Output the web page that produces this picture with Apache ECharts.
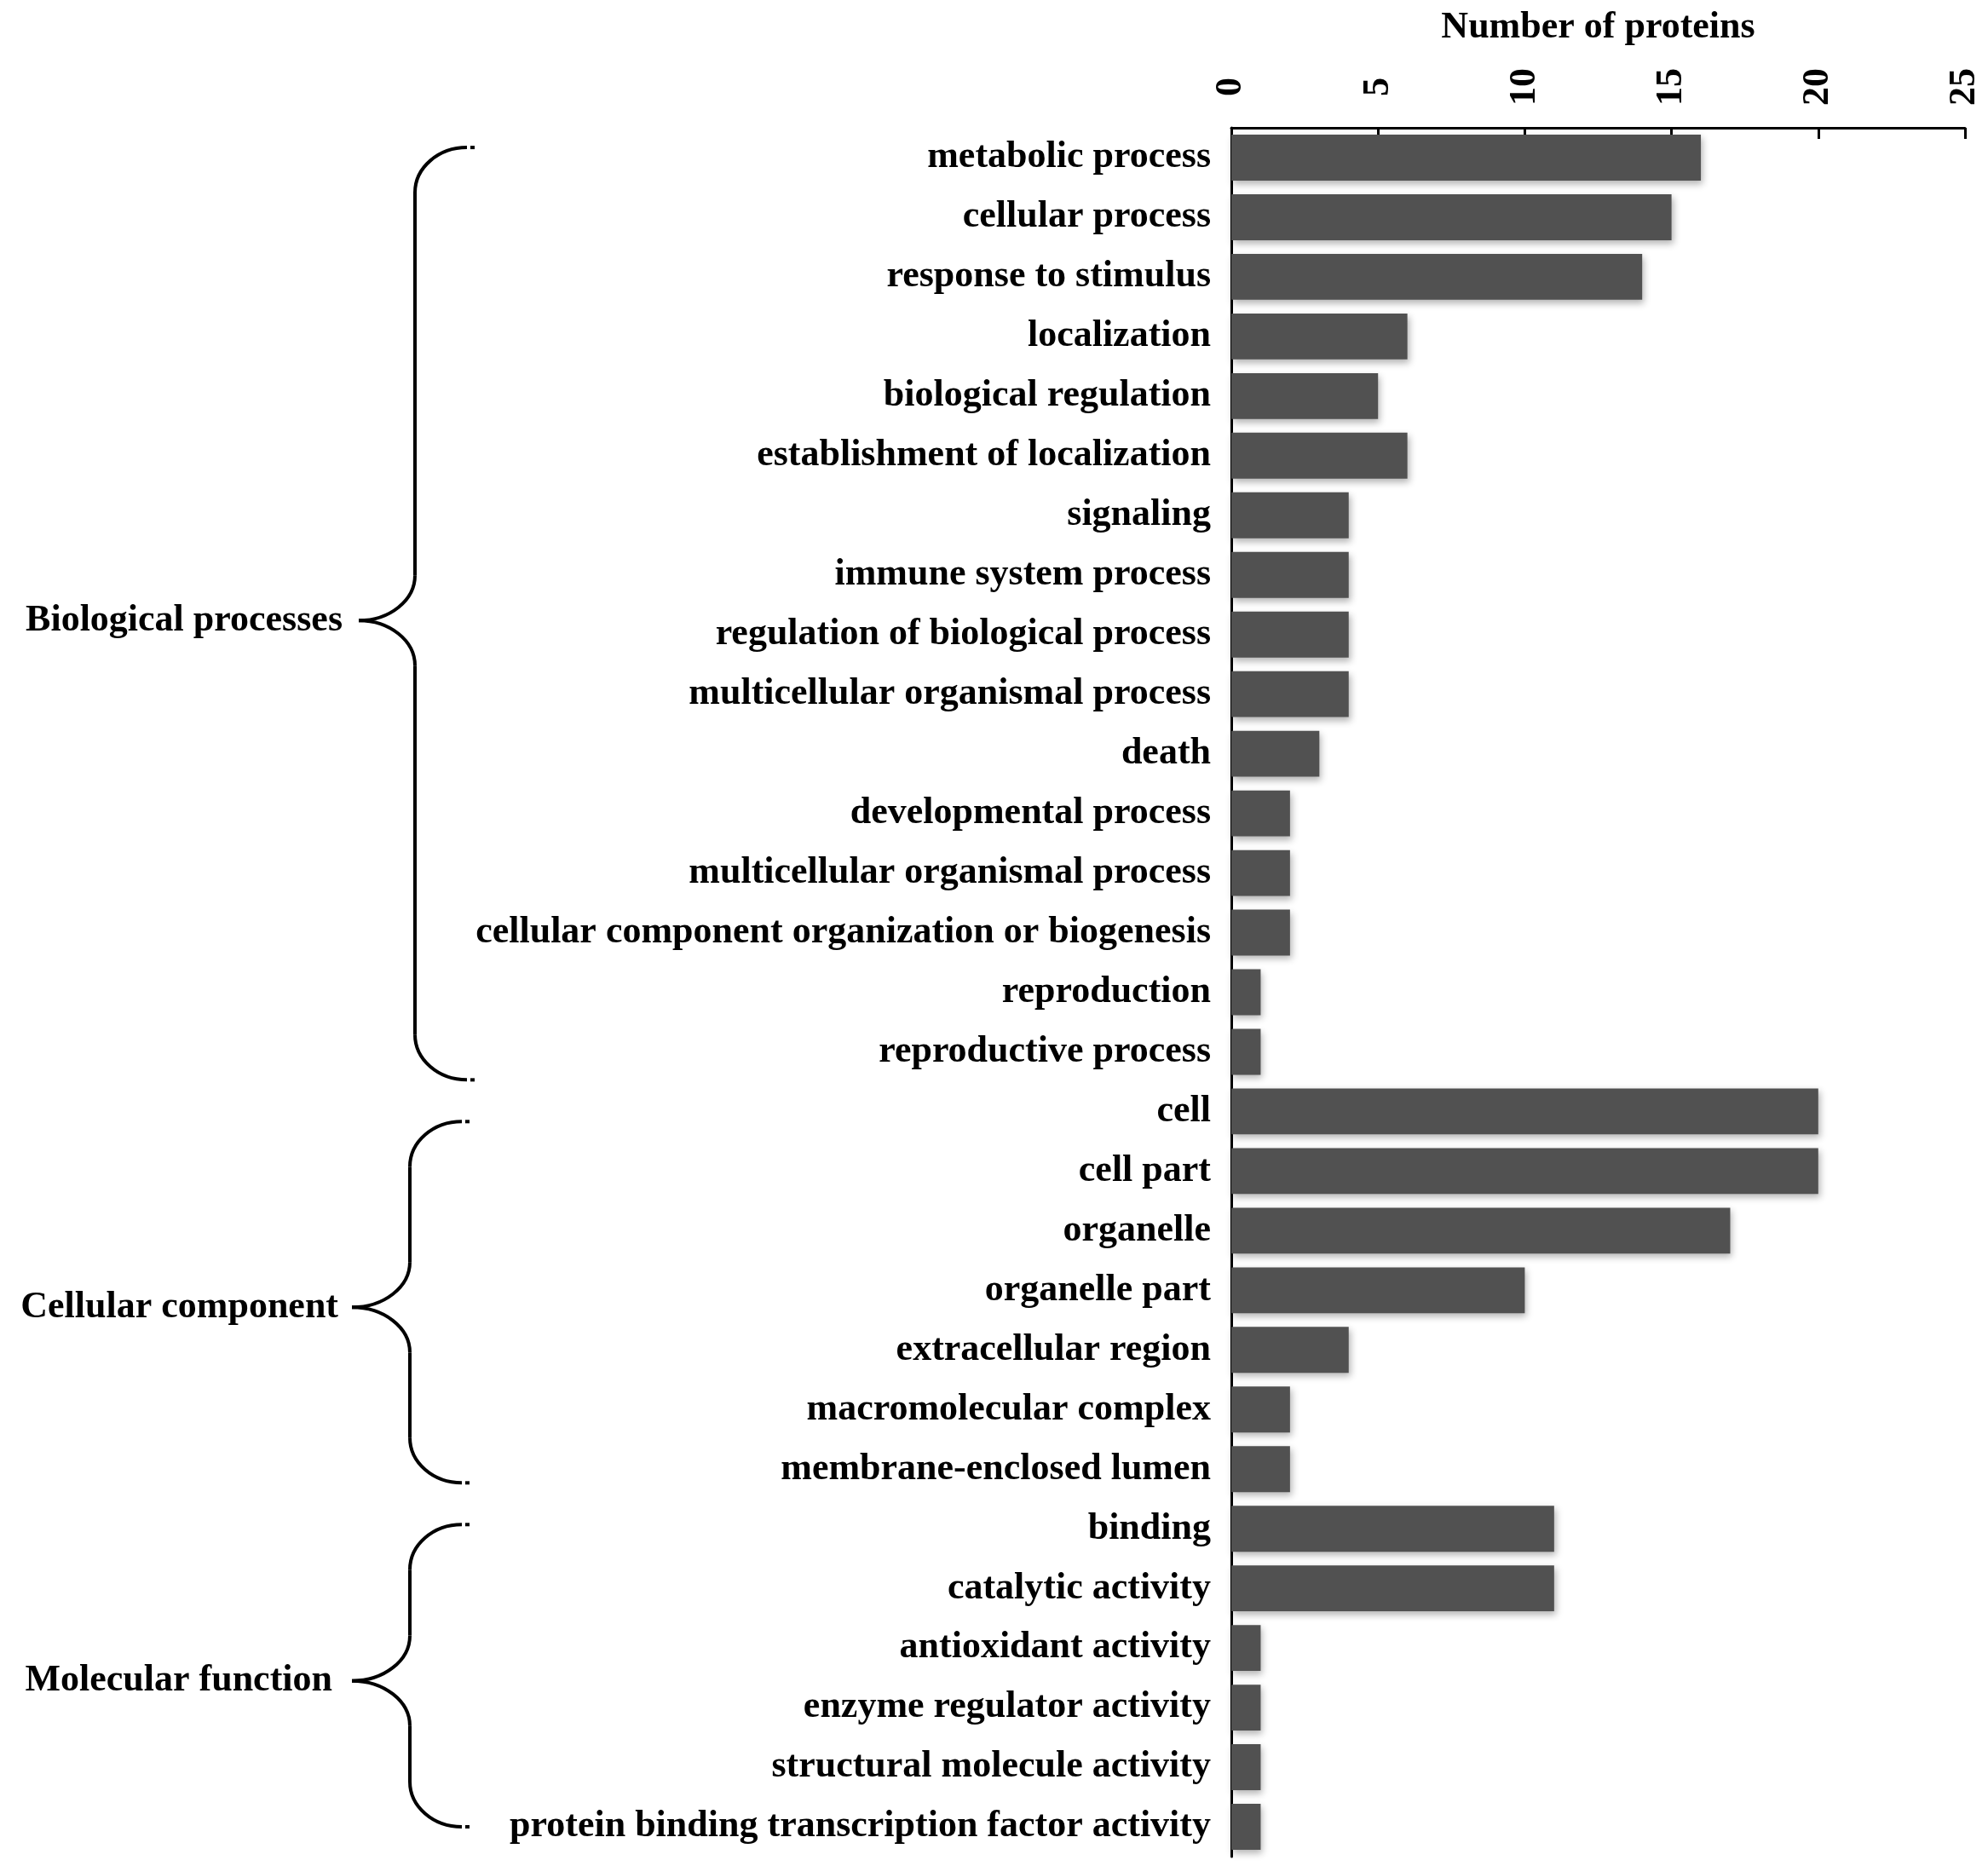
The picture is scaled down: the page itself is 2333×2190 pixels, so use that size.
<!DOCTYPE html>
<html><head><meta charset="utf-8">
<script src="https://cdn.jsdelivr.net/npm/echarts@6/dist/echarts.min.js"></script>
<style>html,body{margin:0;padding:0;background:#fff}#c{width:2333px;height:2190px}</style>
</head><body><div id="c"></div>
<script>
const categories = [
  'metabolic process','cellular process','response to stimulus','localization',
  'biological regulation','establishment of localization','signaling','immune system process',
  'regulation of biological process','multicellular organismal process','death',
  'developmental process','multicellular organismal process',
  'cellular component organization or biogenesis','reproduction','reproductive process',
  'cell','cell part','organelle','organelle part','extracellular region',
  'macromolecular complex','membrane-enclosed lumen',
  'binding','catalytic activity','antioxidant activity','enzyme regulator activity',
  'structural molecule activity','protein binding transcription factor activity'
];
const values = [16,15,14,6,5,6,4,4,4,4,3,2,2,2,1,1, 20,20,17,10,4,2,2, 11,11,1,1,1,1];
const xTicks = [0,5,10,15,20,25];
const groupNames = ['Biological processes','Cellular component','Molecular function'];
const groupFirst = [0,16,23];
const groupLast = [15,22,28];

const FONT = '"Liberation Serif","Times New Roman",serif';
const FS = 44;
const chart = echarts.init(document.getElementById('c'));
chart.setOption({
  backgroundColor:'#fff',
  animation:false,
  grid:{left:1445, right:27, top:150, bottom:11, outerBoundsMode:'none', containLabel:false},
  xAxis:{
    type:'value', position:'top', min:xTicks[0], max:xTicks[xTicks.length-1], interval:xTicks[1]-xTicks[0],
    name:'Number of proteins', nameLocation:'middle', nameGap:117,
    nameTextStyle:{fontFamily:FONT, fontWeight:'bold', fontSize:FS, color:'#000', verticalAlign:'middle'},
    axisLine:{show:true, lineStyle:{color:'#000', width:3}},
    axisTick:{show:true, inside:true, length:13, lineStyle:{color:'#000', width:3}},
    axisLabel:{rotate:-90, align:'center', verticalAlign:'middle', margin:48,
      fontFamily:FONT, fontWeight:'bold', fontSize:FS, color:'#000'},
    splitLine:{show:false}
  },
  yAxis:{
    type:'category', data:categories, inverse:true,
    axisLine:{show:true, lineStyle:{color:'#000', width:3}},
    axisTick:{show:false},
    axisLabel:{interval:0, margin:24, padding:[12,0,0,0], fontFamily:FONT, fontWeight:'bold', fontSize:FS, color:'#000'},
    splitLine:{show:false}
  },
  series:[{
    type:'bar', data:values, barCategoryGap:'23%',
    itemStyle:{color:'#515151', shadowColor:'rgba(0,0,0,0.3)', shadowBlur:8, shadowOffsetY:4, shadowOffsetX:2}
  }]
});

const yc = i => chart.convertToPixel({yAxisIndex:0}, i);
const band = yc(1) - yc(0);
const offTop = [-0.17, 0.17, -0.07];
const offBot = [0.47, 0.23, 0.0];
const tipShift = [8, 6, 6];
const tipX = [421, 413, 413];
const vX = [487, 481, 481];
const endX = [548, 542, 542];
const textX = [402, 397, 390];
const R = 53, K = 0.552;
const LS = {stroke:'#000', lineWidth:4, fill:'none'};
const graphics = [];
function bez(x1,y1,c1x,c1y,c2x,c2y,x2,y2){
  graphics.push({type:'bezierCurve', shape:{x1:x1,y1:y1,cpx1:c1x,cpy1:c1y,cpx2:c2x,cpy2:c2y,x2:x2,y2:y2}, style:LS});
}
function seg(x1,y1,x2,y2){
  graphics.push({type:'line', shape:{x1:x1,y1:y1,x2:x2,y2:y2}, style:LS});
}
for (let g = 0; g < groupNames.length; g++) {
  const top = yc(groupFirst[g]) + offTop[g]*band;
  const bottom = yc(groupLast[g]) + offBot[g]*band;
  const tipY = (top + bottom) / 2 + tipShift[g];
  const T = tipX[g], V = vX[g], E = endX[g];
  bez(E, top, E - K*(E-V), top, V, top + R - K*R, V, top + R);
  seg(V, top + R, V, tipY - R);
  bez(V, tipY - R, V, tipY - R + K*R, T + K*(V-T), tipY, T, tipY);
  bez(T, tipY, T + K*(V-T), tipY, V, tipY + R - K*R, V, tipY + R);
  seg(V, tipY + R, V, bottom - R);
  bez(V, bottom - R, V, bottom - R + K*R, E - K*(E-V), bottom, E, bottom);
  seg(E+4, top, E+9, top);
  seg(E+4, bottom, E+9, bottom);
  graphics.push({type:'text', x:textX[g], y:tipY,
    style:{text:groupNames[g], fontFamily:FONT, fontWeight:'bold', fontSize:FS, fill:'#000', align:'right', verticalAlign:'middle'}});
}
chart.setOption({graphic:graphics});
</script>
</body></html>
